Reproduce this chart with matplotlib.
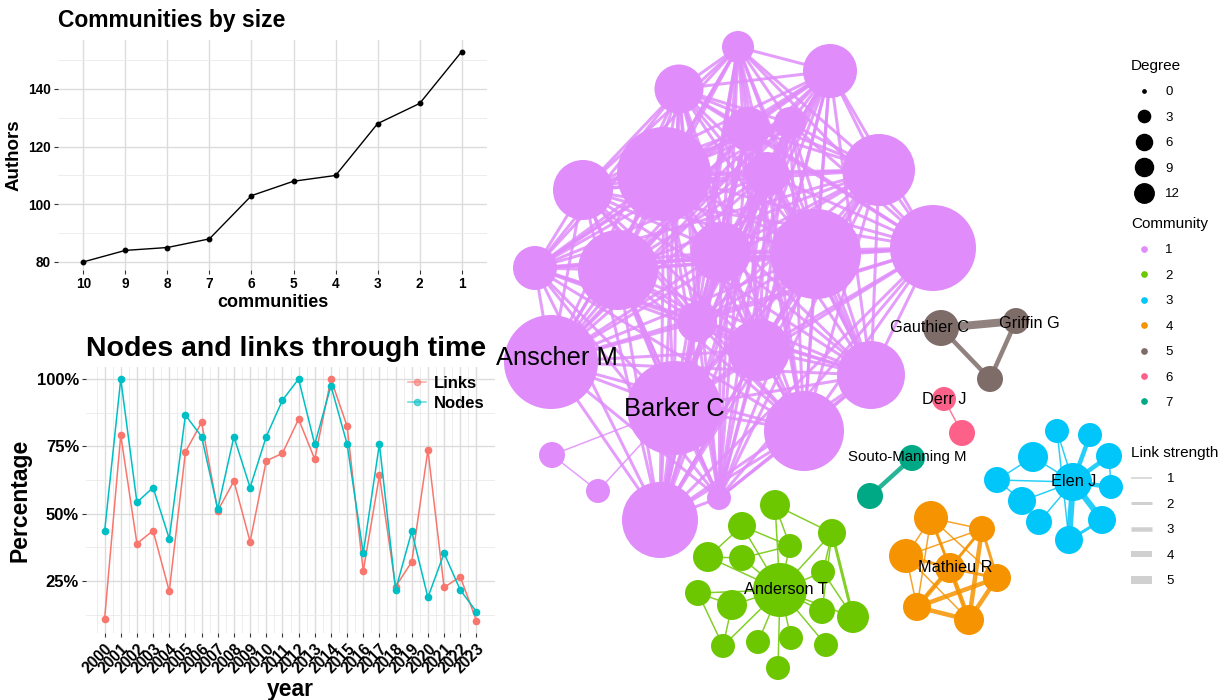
import numpy as np
import matplotlib.pyplot as plt
from matplotlib.collections import LineCollection
from matplotlib.lines import Line2D
from itertools import combinations

plt.rcParams['font.family'] = ['Liberation Sans', 'DejaVu Sans']

W, H = 1223, 700

# ---- communities by size
comm_labels = ['10', '9', '8', '7', '6', '5', '4', '3', '2', '1']
comm_authors = [80, 84, 85, 88, 103, 108, 110, 128, 135, 153]

# ---- nodes and links through time (%)
years = list(range(2000, 2024))
links_pct = [10.9, 79.2, 38.9, 43.7, 21.2, 72.9, 83.9, 51.1, 62.1, 39.6, 69.6, 72.4,
             85.1, 70.2, 100.0, 82.5, 28.7, 64.2, 22.9, 32.1, 73.6, 22.6, 26.6, 10.3]
nodes_pct = [43.4, 100.0, 54.2, 59.7, 40.7, 86.6, 78.6, 51.7, 78.6, 59.7, 78.6, 92.1,
             100.0, 75.7, 97.5, 75.9, 35.3, 75.9, 21.7, 43.4, 18.9, 35.3, 21.7, 13.6]

# ---- co-author network (layout coordinates, node radius, community)
node_x = [738, 679, 830, 748, 790, 664, 583, 767, 879, 933, 816, 721, 618, 535, 697, 759,
          871, 551, 674, 804, 660, 719, 552, 598,
          780, 775, 742, 832, 708, 742, 790, 823, 698, 732, 822, 853, 723, 758, 791, 826, 778,
          1073, 1057, 1090, 1033, 1109, 997, 1111, 1022, 1039, 1102, 1069,
          950, 931, 982, 906, 997, 917, 969,
          941, 1016, 990,
          944, 962,
          912, 870]
node_y = [47, 89, 71, 129, 123, 174, 190, 174, 170, 248, 254, 252, 270, 268, 322, 350,
          375, 362, 408, 431, 520, 498, 455, 491,
          590, 505, 526, 533, 557, 558, 546, 572, 593, 605, 611, 617, 646, 642, 638, 645, 668,
          482, 431, 435, 457, 456, 480, 487, 501, 522, 520, 540,
          568, 518, 529, 556, 578, 607, 620,
          328, 321, 379,
          399, 433,
          458, 496]
node_r = [16, 24.5, 27, 22, 16, 47, 30, 22, 36, 43, 45, 30, 40, 22, 20, 31,
          34, 47, 47, 40, 38, 12, 13, 12,
          27, 15, 14, 14, 15, 13, 12, 12, 13, 15, 13, 16, 12, 12, 12, 12, 12,
          19, 12, 12, 15, 13, 13, 12, 14, 13, 14, 14,
          15, 17, 13, 17, 14, 14, 15,
          18, 13, 13,
          12, 13,
          13, 13]
node_comm = [1] * 24 + [2] * 17 + [3] * 11 + [4] * 7 + [5] * 3 + [6] * 2 + [7] * 2

comm_colors = {1: '#E08CFB', 2: '#6CC700', 3: '#00C6FA', 4: '#F59300',
               5: '#7E6C69', 6: '#FD6088', 7: '#00A985'}

# community 1 core is fully connected
core1 = list(range(22))
edges = [(i, j, 2) for i, j in combinations(core1, 2)]
edges += [(22, 23, 1), (22, 18, 1), (23, 18, 1)]
edges += [(24, k, 1) for k in range(25, 41)]
edges += [(25, 27, 1), (25, 30, 1), (26, 28, 1), (26, 30, 1), (28, 29, 1), (29, 30, 1),
          (27, 31, 1), (27, 35, 2), (31, 35, 1), (32, 33, 1), (32, 36, 1), (33, 36, 1),
          (27, 34, 1)]
edges += [(41, 42, 1), (41, 43, 3), (41, 44, 1), (41, 45, 3), (41, 46, 1), (41, 47, 3),
          (41, 48, 1), (41, 49, 1), (41, 50, 4), (41, 51, 4), (46, 44, 1), (46, 48, 1),
          (48, 49, 1), (50, 51, 2), (45, 47, 1), (42, 51, 1)]
edges += [(52, 53, 2), (52, 54, 2), (52, 55, 2), (52, 56, 2), (52, 57, 3), (52, 58, 3),
          (53, 54, 1), (53, 55, 1), (53, 56, 1), (53, 57, 1), (53, 58, 1), (54, 55, 1),
          (54, 56, 2), (54, 57, 1), (54, 58, 3), (55, 57, 1), (55, 58, 1), (56, 57, 3),
          (56, 58, 3), (57, 58, 3)]
edges += [(59, 60, 5), (59, 61, 3), (60, 61, 3), (62, 63, 1), (64, 65, 3)]

label_text = ['Anscher M', 'Barker C', 'Gauthier C', 'Griffin G', 'Derr J',
              'Souto-Manning M', 'Elen J', 'Mathieu R', 'Anderson T']
label_x = [557, 674, 930, 1029, 944, 907, 1074, 955, 786]
label_y = [358, 409, 328, 324, 399, 457, 482, 567, 590]
label_size = [18.4, 18.4, 11.7, 11.7, 11.7, 10.8, 11.7, 11.7, 11.7]

degree_levels = [0, 3, 6, 9, 12]
degree_ms = [2.4, 8.8, 11.6, 13, 14]
strength_levels = [1, 2, 3, 4, 5]
strength_px = [1.5, 3, 4.5, 6, 8]

fig = plt.figure(figsize=(W / 100, H / 100), dpi=100)


def style_panel(ax):
    for s in ax.spines.values():
        s.set_visible(False)
    ax.grid(True, which='major', color='#DCDCDC', lw=1.0)
    ax.grid(True, which='minor', color='#EAEAEA', lw=0.6)
    ax.set_axisbelow(True)
    ax.tick_params(which='major', length=3, color='#333333', width=0.8)
    ax.tick_params(which='minor', length=0)


# ---- top left
ax1 = fig.add_axes([58 / W, 1 - 270 / H, 429 / W, 230 / H])
xi = np.arange(len(comm_labels))
ax1.plot(xi, comm_authors, color='black', lw=1.0, marker='o', ms=3.2, zorder=3)
ax1.set_xlim(-0.6, 9.6)
ax1.set_ylim(77.2, 157)
ax1.set_xticks(xi, comm_labels)
ax1.set_yticks([80, 100, 120, 140])
ax1.set_yticks([90, 110, 130, 150], minor=True)
style_panel(ax1)
ax1.tick_params(labelsize=9.8, pad=2)
for lab in ax1.get_xticklabels() + ax1.get_yticklabels():
    lab.set_fontweight('bold')
ax1.set_xlabel('communities', fontsize=13, fontweight='bold', labelpad=2)
ax1.set_ylabel('Authors', fontsize=13.5, fontweight='bold', labelpad=4)
ax1.set_title('Communities by size', loc='left', fontsize=16.5, fontweight='bold', pad=9)

# ---- bottom left
ax2 = fig.add_axes([86 / W, 1 - 633 / H, 409 / W, 266 / H])
ax2.plot(years, links_pct, color='#F8766D', lw=1.1, marker='o', ms=4.5)
ax2.plot(years, nodes_pct, color='#00BFC4', lw=1.1, marker='o', ms=4.5)
ax2.set_xlim(1998.85, 2024.15)
ax2.set_ylim(5.7, 104.45)
ax2.set_xticks(years, [str(y) for y in years])
ax2.set_xticks([y + 0.5 for y in years[:-1]] + [1999.5], minor=True)
ax2.set_yticks([25, 50, 75, 100], ['25%', '50%', '75%', '100%'])
ax2.set_yticks([12.5, 37.5, 62.5, 87.5], minor=True)
style_panel(ax2)
ax2.tick_params(axis='y', labelsize=12, pad=2)
ax2.tick_params(axis='x', labelsize=11.2, pad=3)
for lab in ax2.get_xticklabels():
    lab.set_rotation(45)
    lab.set_ha('right')
    lab.set_va('top')
    lab.set_rotation_mode('anchor')
for lab in ax2.get_xticklabels() + ax2.get_yticklabels():
    lab.set_fontweight('bold')
ax2.set_xlabel('year', fontsize=16.5, fontweight='bold', labelpad=1)
ax2.set_ylabel('Percentage', fontsize=16.5, fontweight='bold', labelpad=4)
ax2.set_title('Nodes and links through time', loc='left', fontsize=20.5,
              fontweight='bold', pad=8)
time_handles = [Line2D([], [], color=c, lw=1.1, marker='o', ms=4.5, alpha=0.6)
                for c in ['#F8766D', '#00BFC4']]
ax2.legend(time_handles, ['Links', 'Nodes'], loc='upper left',
           bbox_to_anchor=(408 / W, 1 - 376 / H), bbox_transform=fig.transFigure,
           frameon=False, prop={'size': 12, 'weight': 'bold'},
           handlelength=1.1, handletextpad=0.45, labelspacing=0.3,
           borderpad=0, borderaxespad=0)

# ---- network
axn = fig.add_axes([0, 0, 1, 1], zorder=5)
axn.set_xlim(0, W)
axn.set_ylim(H, 0)
axn.axis('off')
axn.patch.set_alpha(0)

segs = [[(node_x[i], node_y[i]), (node_x[j], node_y[j])] for i, j, s in edges]
ecols = [comm_colors[node_comm[i]] for i, j, s in edges]
ewid = [strength_px[s - 1] * 0.72 for i, j, s in edges]
axn.add_collection(LineCollection(segs, colors=ecols, linewidths=ewid, alpha=0.85,
                                  capstyle='butt', zorder=1))

sizes = [(2 * r * 0.72) ** 2 for r in node_r]
axn.scatter(node_x, node_y, s=sizes, c=[comm_colors[c] for c in node_comm],
            edgecolors='none', zorder=2)

for t, x, y, fs in zip(label_text, label_x, label_y, label_size):
    axn.text(x, y, t, fontsize=fs, ha='center', va='center', color='black', zorder=3)

# legends
leg_kw = dict(loc='upper left', bbox_transform=fig.transFigure, frameon=False,
              fontsize=9.5, title_fontsize=11, alignment='left',
              labelspacing=1.0, borderpad=0, borderaxespad=0)

deg_handles = [Line2D([], [], ls='', marker='o', color='black', markersize=m)
               for m in degree_ms]
leg1 = axn.legend(deg_handles, [str(d) for d in degree_levels], title='Degree',
                  bbox_to_anchor=(1131 / W, 1 - 59 / H), handlelength=2.0,
                  handletextpad=0.6, **leg_kw)
axn.add_artist(leg1)

com_handles = [Line2D([], [], ls='', marker='o', color=comm_colors[c], markersize=3.8)
               for c in comm_colors]
leg2 = axn.legend(com_handles, [str(c) for c in comm_colors], title='Community',
                  bbox_to_anchor=(1131 / W, 1 - 217 / H), handlelength=2.0,
                  handletextpad=0.6, **leg_kw)
axn.add_artist(leg2)

str_handles = [Line2D([], [], color='#D0D0D0', lw=w * 0.72, solid_capstyle='butt')
               for w in strength_px]
leg3 = axn.legend(str_handles, [str(s) for s in strength_levels], title='Link strength',
                  bbox_to_anchor=(1131 / W, 1 - 446 / H), handlelength=1.6,
                  handletextpad=1.1, **leg_kw)

fig.savefig('out.png', dpi=100)
